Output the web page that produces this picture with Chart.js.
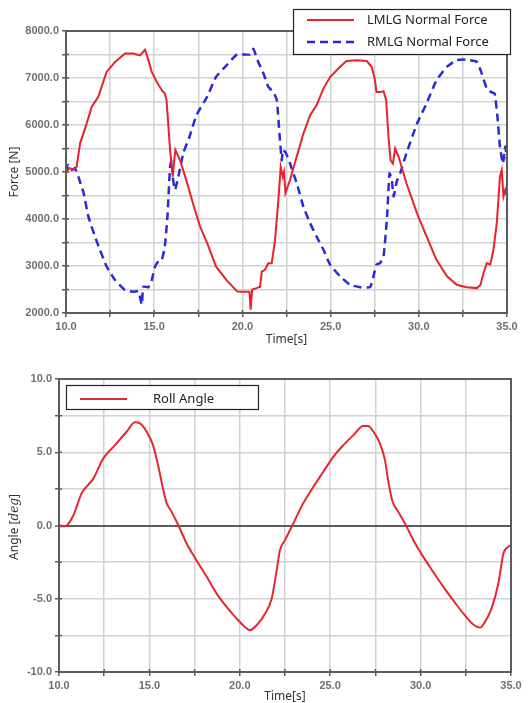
<!DOCTYPE html>
<html>
<head>
<meta charset="utf-8">
<title>Landing gear normal force and roll angle</title>
<script src="https://cdn.jsdelivr.net/npm/chart.js@4/dist/chart.umd.min.js"></script>
<style>
  html, body { margin: 0; padding: 0; background: #fff; }
  .panel { position: absolute; left: 0; width: 529px; }
  #force-panel { top: 0; height: 350px; }
  #roll-panel { top: 350px; height: 353px; }
</style>
</head>
<body>
<div class="panel" id="force-panel"><canvas id="force-canvas" width="529" height="350"></canvas></div>
<div class="panel" id="roll-panel"><canvas id="roll-canvas" width="529" height="353"></canvas></div>
<script>
// --- data ---
const timeLMLG = [10, 10.2, 10.4, 10.6, 10.8, 11.17, 11.46, 11.83, 12.3, 12.78, 13.35, 13.8, 14.2, 14.48, 14.67, 14.86, 15.14, 15.43, 15.6, 15.7, 15.9, 16.05, 16.1, 16.2, 16.47, 16.84, 17.2, 17.6, 18.0, 18.5, 19.1, 19.7, 19.9, 20.4, 20.47, 20.55, 20.8, 21.0, 21.1, 21.28, 21.47, 21.66, 21.85, 22.04, 22.17, 22.29, 22.36, 22.44, 22.7, 23.08, 23.46, 23.84, 24.2, 24.6, 24.97, 25.54, 25.9, 26.5, 27.05, 27.33, 27.52, 27.6, 27.8, 28.0, 28.15, 28.28, 28.4, 28.53, 28.66, 28.85, 29.3, 29.9, 30.44, 31.0, 31.6, 32.15, 32.7, 33.3, 33.5, 33.67, 33.86, 34.05, 34.23, 34.42, 34.6, 34.7, 34.8, 34.9, 35.0];
const forceLMLG = [5000, 5080, 5060, 5110, 5610, 6030, 6390, 6600, 7130, 7340, 7520, 7520, 7480, 7600, 7380, 7130, 6920, 6740, 6670, 6530, 5470, 4900, 5110, 5470, 5250, 4800, 4330, 3840, 3490, 2990, 2700, 2460, 2450, 2450, 2070, 2500, 2530, 2560, 2880, 2920, 3060, 3060, 3550, 4400, 5110, 4900, 5000, 4550, 4830, 5330, 5820, 6210, 6420, 6780, 7020, 7240, 7360, 7380, 7360, 7240, 6950, 6700, 6700, 6720, 6530, 5750, 5250, 5180, 5500, 5330, 4760, 4120, 3630, 3130, 2780, 2600, 2550, 2530, 2600, 2850, 3060, 3030, 3340, 3910, 4900, 5040, 4480, 4620, 4480];

const timeRMLG = [10, 10.13, 10.32, 10.5, 10.7, 11.0, 11.27, 11.64, 11.93, 12.3, 12.78, 13.35, 13.8, 14.1, 14.3, 14.38, 14.67, 14.86, 15.05, 15.24, 15.43, 15.6, 15.75, 15.9, 16.0, 16.05, 16.18, 16.37, 16.65, 17.0, 17.4, 18.0, 18.5, 19.1, 19.7, 20.43, 20.62, 20.9, 21.2, 21.47, 21.76, 21.95, 22.1, 22.23, 22.3, 22.47, 22.7, 23.08, 23.46, 23.84, 24.2, 24.6, 24.97, 25.54, 26.1, 26.67, 27.24, 27.43, 27.6, 27.8, 28.0, 28.2, 28.34, 28.47, 28.57, 28.75, 28.94, 29.3, 29.9, 30.44, 31.0, 31.6, 32.15, 32.7, 33.3, 33.57, 33.86, 34.1, 34.3, 34.46, 34.6, 34.77, 34.9, 35.0];
const forceRMLG = [5000, 5150, 5040, 5080, 4900, 4550, 4050, 3630, 3340, 2990, 2700, 2490, 2450, 2460, 2180, 2560, 2550, 2700, 2990, 3100, 3130, 3410, 4050, 5110, 5250, 4900, 4620, 4900, 5400, 5750, 6210, 6600, 7020, 7270, 7500, 7500, 7620, 7340, 7090, 6810, 6700, 6530, 5820, 5250, 5470, 5400, 5180, 4760, 4260, 3910, 3630, 3340, 3030, 2780, 2600, 2550, 2550, 2780, 3030, 3060, 3200, 4050, 4970, 4830, 4480, 4800, 4970, 5400, 6030, 6460, 6950, 7240, 7380, 7390, 7340, 7090, 6770, 6700, 6670, 6170, 5540, 5180, 5540, 5250];

const timeRoll = [10, 10.33, 10.5, 10.8, 11.25, 11.9, 12.45, 13.1, 13.74, 14.2, 14.48, 14.85, 15.2, 15.5, 15.77, 15.95, 16.23, 16.6, 17.06, 17.6, 18.17, 18.72, 19.27, 19.83, 20.29, 20.56, 20.93, 21.4, 21.76, 22.04, 22.22, 22.5, 22.96, 23.5, 24.07, 24.62, 25.17, 25.73, 26.28, 26.83, 27.1, 27.39, 27.75, 28.03, 28.2, 28.45, 28.77, 29.14, 29.6, 30.15, 30.7, 31.26, 31.8, 32.36, 32.9, 33.29, 33.56, 33.92, 34.3, 34.58, 34.85, 35.0];
const rollAngle = [-0.05, -0.05, 0.1, 0.7, 2.19, 3.2, 4.58, 5.49, 6.4, 7.04, 6.97, 6.4, 5.49, 4.0, 2.41, 1.55, 0.93, 0.02, -1.23, -2.37, -3.5, -4.65, -5.56, -6.36, -6.93, -7.15, -6.81, -6.0, -5.0, -3.05, -1.69, -1.0, 0.14, 1.5, 2.64, 3.67, 4.69, 5.49, 6.17, 6.79, 6.79, 6.4, 5.6, 4.46, 3.1, 1.62, 0.93, 0.14, -1.0, -2.14, -3.17, -4.19, -5.1, -6.0, -6.74, -6.97, -6.58, -5.67, -3.96, -1.91, -1.46, -1.34];

const timeTicks = { min: 10, max: 35, step: 2.5, labelEvery: 5 };
const forceTicks = { min: 2000, max: 8000, step: 500, labelEvery: 1000 };
const angleTicks = { min: -10, max: 10, step: 2.5, labelEvery: 5 };

const pairs = (xs, ys) => xs.map((x, i) => ({ x, y: ys[i] }));

const GRID = '#d2d2d2';
const AXIS = '#5c5c5c';
const TICK_FONT = { family: 'Liberation Sans, Arial, sans-serif', size: 11, weight: 'bold' };
const TITLE_FONT = { family: 'Noto Sans, sans-serif', size: 12, lineHeight: 1 };

function axis(t, extra) {
  return Object.assign({
    type: 'linear',
    min: t.min,
    max: t.max,
    border: { color: AXIS, width: 2 },
    grid: { color: GRID, lineWidth: 1.5, tickLength: 4, tickColor: AXIS, tickWidth: 1.5 },
    ticks: {
      stepSize: t.step,
      autoSkip: false,
      maxRotation: 0,
      padding: 3,
      color: '#707070',
      font: TICK_FONT,
      callback: v => (Math.abs(v % t.labelEvery) < 1e-9 ? v.toFixed(1) : '')
    }
  }, extra);
}

// dark frame round the plot area, with tick stubs poking inside the axes
const framePlugin = {
  id: 'frame',
  afterDatasetsDraw(chart) {
    const { ctx, chartArea: a, scales } = chart;
    ctx.save();
    ctx.strokeStyle = AXIS;
    ctx.lineWidth = 2;
    ctx.strokeRect(a.left, a.top, a.right - a.left, a.bottom - a.top);
    ctx.lineWidth = 1.5;
    ctx.beginPath();
    scales.x.ticks.forEach(t => {
      const px = scales.x.getPixelForValue(t.value);
      ctx.moveTo(px, a.bottom);
      ctx.lineTo(px, a.bottom - 3);
    });
    scales.y.ticks.forEach(t => {
      const py = scales.y.getPixelForValue(t.value);
      ctx.moveTo(a.left, py);
      ctx.lineTo(a.left + 3, py);
    });
    ctx.stroke();
    ctx.restore();
  }
};

// boxed legend at a fixed spot, like the original plots
const boxLegendPlugin = {
  id: 'boxLegend',
  afterDraw(chart, args, opts) {
    if (!opts.box) return;
    const { ctx } = chart;
    const b = opts.box;
    ctx.save();
    ctx.fillStyle = '#fff';
    ctx.fillRect(b.x, b.y, b.w, b.h);
    ctx.strokeStyle = '#222';
    ctx.lineWidth = 1.2;
    ctx.strokeRect(b.x + 0.5, b.y + 0.5, b.w, b.h);
    ctx.font = '13px "Noto Sans", sans-serif';
    ctx.textBaseline = 'middle';
    chart.data.datasets.forEach((ds, i) => {
      const y = b.y + opts.rowY[i];
      ctx.strokeStyle = ds.borderColor;
      ctx.lineWidth = ds.borderWidth;
      ctx.setLineDash(ds.borderDash || []);
      ctx.beginPath();
      ctx.moveTo(b.x + opts.lineX0, y);
      ctx.lineTo(b.x + opts.lineX1, y);
      ctx.stroke();
      ctx.setLineDash([]);
      ctx.fillStyle = '#222';
      ctx.fillText(ds.label, b.x + opts.textX, y);
    });
    ctx.restore();
  }
};

// "Angle [deg]" with the unit set in italic, drawn rotated
const angleTitlePlugin = {
  id: 'angleTitle',
  afterDraw(chart, args, opts) {
    if (!opts.parts) return;
    const { ctx } = chart;
    ctx.save();
    ctx.translate(opts.x, opts.y);
    ctx.rotate(-Math.PI / 2);
    ctx.fillStyle = '#333';
    ctx.textBaseline = 'middle';
    let total = 0;
    opts.parts.forEach(p => { ctx.font = p.font; total += ctx.measureText(p.text).width; });
    let x = -total / 2;
    opts.parts.forEach(p => {
      ctx.font = p.font;
      ctx.fillText(p.text, x, 0);
      x += ctx.measureText(p.text).width;
    });
    ctx.restore();
  }
};

Chart.register(framePlugin, boxLegendPlugin, angleTitlePlugin);

new Chart(document.getElementById('force-canvas'), {
  type: 'line',
  data: {
    datasets: [
      {
        label: 'LMLG Normal Force',
        data: pairs(timeLMLG, forceLMLG),
        borderColor: '#e8222c',
        borderWidth: 2,
        pointRadius: 0,
        tension: 0
      },
      {
        label: 'RMLG Normal Force',
        data: pairs(timeRMLG, forceRMLG),
        borderColor: '#2a2ad6',
        borderWidth: 2.5,
        borderDash: [8, 5],
        pointRadius: 0,
        tension: 0.15
      }
    ]
  },
  options: {
    responsive: false,
    devicePixelRatio: 1,
    animation: false,
    events: [],
    layout: { padding: { left: 0, right: 22, top: 31, bottom: 0 } },
    plugins: {
      legend: { display: false },
      tooltip: { enabled: false },
      boxLegend: { box: { x: 293, y: 9, w: 217, h: 45 }, rowY: [11, 33], lineX0: 14, lineX1: 61, textX: 74 }
    },
    scales: {
      x: axis(timeTicks, {
        afterFit: s => { s.height = 37; },
        title: { display: true, text: 'Time[s]', color: '#333', font: TITLE_FONT, padding: { top: 0, bottom: 4 } }
      }),
      y: axis(forceTicks, {
        afterFit: s => { s.width = 66; },
        title: { display: true, text: 'Force [N]', color: '#333', font: TITLE_FONT, padding: { top: 9, bottom: 0 } }
      })
    }
  }
});

new Chart(document.getElementById('roll-canvas'), {
  type: 'line',
  data: {
    datasets: [
      {
        label: 'Roll Angle',
        data: pairs(timeRoll, rollAngle),
        borderColor: '#e82632',
        borderWidth: 2,
        pointRadius: 0,
        cubicInterpolationMode: 'monotone'
      }
    ]
  },
  options: {
    responsive: false,
    devicePixelRatio: 1,
    animation: false,
    events: [],
    layout: { padding: { left: 0, right: 18, top: 29, bottom: 0 } },
    plugins: {
      legend: { display: false },
      tooltip: { enabled: false },
      boxLegend: { box: { x: 66, y: 35, w: 192, h: 24 }, rowY: [14], lineX0: 14, lineX1: 61, textX: 87 },
      angleTitle: {
        x: 15, y: 177,
        parts: [
          { text: 'Angle [', font: '12px "Noto Sans", sans-serif' },
          { text: 'deg', font: 'italic 12px "DejaVu Serif", serif' },
          { text: ']', font: '12px "Noto Sans", sans-serif' }
        ]
      }
    },
    scales: {
      x: axis(timeTicks, {
        afterFit: s => { s.height = 31; },
        title: { display: true, text: 'Time[s]', color: '#333', font: TITLE_FONT, padding: 0 }
      }),
      y: axis(angleTicks, {
        afterFit: s => { s.width = 59; },
        grid: {
          color: c => (c.tick && c.tick.value === 0 ? AXIS : GRID),
          lineWidth: c => (c.tick && c.tick.value === 0 ? 2 : 1.5),
          tickLength: 4, tickColor: AXIS, tickWidth: 1.5
        }
      })
    }
  }
});
</script>
</body>
</html>
